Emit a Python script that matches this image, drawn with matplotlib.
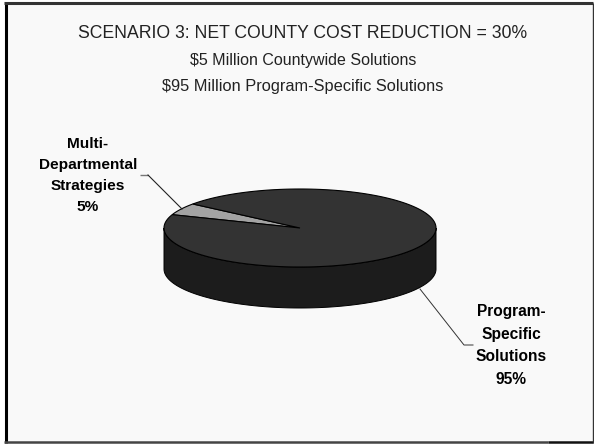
import numpy as np
import matplotlib
matplotlib.use("Agg")
import matplotlib.pyplot as plt
from matplotlib.patches import Polygon, Rectangle

plt.rcParams['font.family'] = ['Liberation Sans', 'DejaVu Sans']

# Share of the savings target by solution type
categories = ["Multi-\nDepartmental\nStrategies", "Program-\nSpecific\nSolutions"]
shares = [5, 95]
title_lines = [
    "SCENARIO 3: NET COUNTY COST REDUCTION = 30%",
    "$5 Million Countywide Solutions",
    "$95 Million Program-Specific Solutions",
]
title_sizes = [12.7, 11.5, 11.8]
slice_colors = ["#a3a3a3", "#333333"]
wall_color = "#1c1c1c"

W, H = 594, 444
CX, CY, RX, RY, DEPTH = 300, 228, 136, 39, 41
START_ANGLE = 142

fig = plt.figure(figsize=(W / 100, H / 100), dpi=100, facecolor="white")
ax = fig.add_axes([0, 0, 1, 1])

# Slide panel and its frame
ax.add_patch(Rectangle((5, 2), 588, 441, facecolor="#f9f9f9", edgecolor="none", zorder=0))
ax.plot([5.5, 5.5], [2, 443], color="black", lw=2.2, zorder=1, solid_capstyle="butt")
ax.plot([4, 593], [3.2, 3.2], color="#333333", lw=2.2, zorder=1, solid_capstyle="butt")
ax.plot([4, 548], [442, 442], color="#444444", lw=1.8, zorder=1, solid_capstyle="butt")
ax.plot([548, 593], [442, 442], color="#111111", lw=1.8, zorder=1, solid_capstyle="butt")
ax.plot([592.7, 592.7], [3, 443], color="#333333", lw=1.0, zorder=1, solid_capstyle="butt")


def ellipse_point(theta, dy=0.0):
    return CX + RX * np.cos(theta), CY - RY * np.sin(theta) + dy


# Cylinder wall below the top face
front = np.linspace(np.pi, 2 * np.pi, 160)
x_top, y_top = ellipse_point(front)
x_bot, y_bot = ellipse_point(front[::-1], DEPTH)
wall = np.column_stack([np.r_[x_top, x_bot], np.r_[y_top, y_bot]])
ax.add_patch(Polygon(wall, closed=True, facecolor=wall_color, edgecolor="black", lw=0.7, zorder=2))

# Top face: each slice's sweep comes from its share
angle = np.deg2rad(START_ANGLE)
total = sum(shares)
for share, color in zip(shares, slice_colors):
    sweep = 2 * np.pi * share / total
    t = np.linspace(angle, angle + sweep, 200)
    xs, ys = ellipse_point(t)
    pts = np.column_stack([np.r_[CX, xs], np.r_[CY, ys]])
    ax.add_patch(Polygon(pts, closed=True, facecolor=color, edgecolor="black", lw=0.8, zorder=3))
    angle += sweep

# Leader lines
ax.plot([140, 148], [175, 175], color="#777777", lw=1.0, zorder=4, solid_capstyle="butt")
ax.plot([148, 182], [175, 209], color="#222222", lw=0.8, zorder=4)
ax.plot([420, 464, 473], [289, 345, 345], color="#333333", lw=0.7, zorder=4)

# Heading
for y, line, size in zip([33, 60, 87], title_lines, title_sizes):
    ax.text(303, y, line, ha="center", va="center", fontsize=size, color="#222222", zorder=5)

# Slice labels
ax.text(88, 175.5, f"{categories[0]}\n{shares[0]}%", ha="center", va="center",
        fontsize=11.1, fontweight="bold", linespacing=1.65, color="black", zorder=5)
ax.text(511, 345.5, f"{categories[1]}\n{shares[1]}%", ha="center", va="center",
        fontsize=11.2, fontweight="bold", linespacing=1.65, color="black", zorder=5)

ax.set_xlim(0, W)
ax.set_ylim(H, 0)
ax.axis("off")

fig.savefig("out.png", dpi=100, facecolor="white")
